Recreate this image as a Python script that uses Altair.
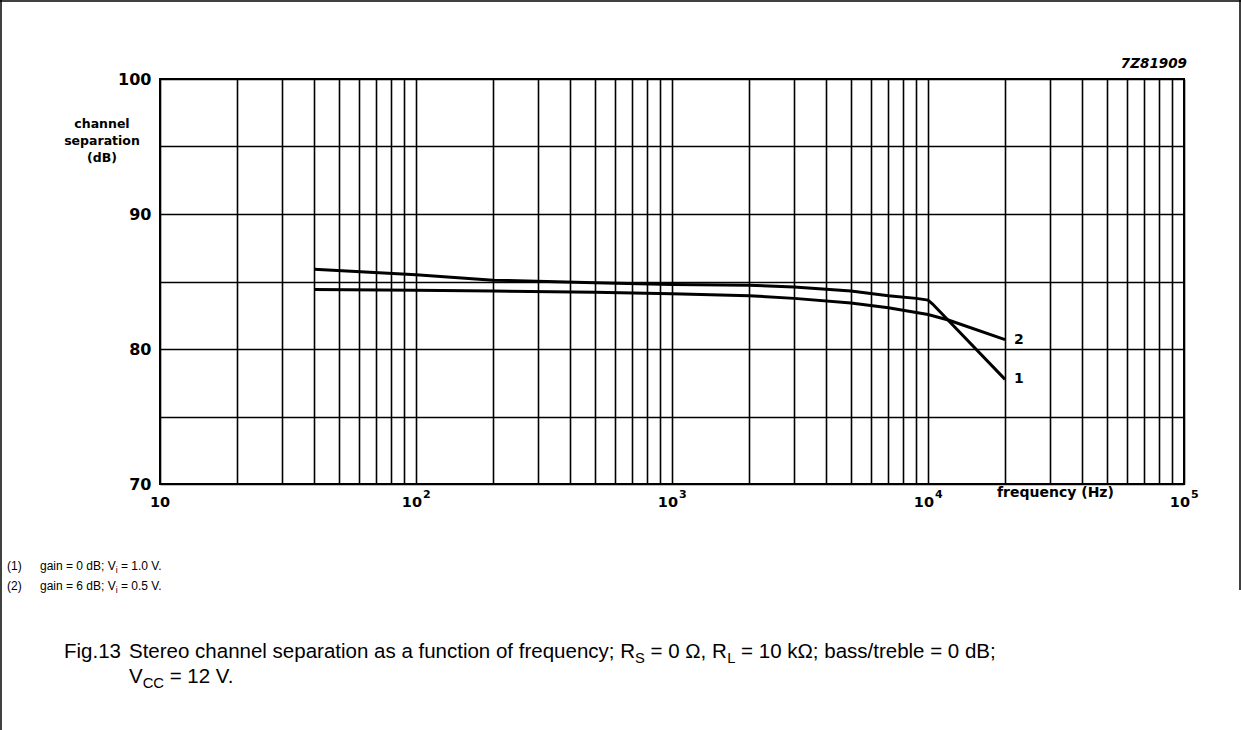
import altair as alt
import pandas as pd

# ---------------- data ----------------
freq1 = [40, 100, 200, 500, 1000, 2000, 3000, 5000, 7000, 9000, 10000, 10400, 20000]
sep1 = [85.9, 85.5, 85.1, 84.9, 84.78, 84.72, 84.6, 84.3, 83.95, 83.75, 83.62, 83.35, 77.75]
freq2 = [40, 100, 200, 500, 1000, 2000, 3000, 5000, 7000, 10000, 12000, 20000]
sep2 = [84.4, 84.35, 84.3, 84.2, 84.1, 83.95, 83.75, 83.4, 83.05, 82.55, 82.15, 80.7]
curve_names = ["1", "2"]

decades = [10, 100, 1000, 10000, 100000]
exponents = ["", "2", "3", "4", "5"]
y_ticks = [70, 75, 80, 85, 90, 95, 100]
x_grid = [m * d for d in [10, 100, 1000, 10000] for m in range(1, 10)] + [100000]

FONT = "Liberation Sans"
BFONT = "DejaVu Sans"
W_PLOT, H_PLOT = 1024, 405
PAD = {"left": 160, "top": 79, "right": 57, "bottom": 246}

rows = []
for f, s in zip(freq1, sep1):
    rows.append({"freq": f, "sep": s, "curve": "1"})
for f, s in zip(freq2, sep2):
    rows.append({"freq": f, "sep": s, "curve": "2"})
df = pd.DataFrame(rows)

ends = pd.DataFrame({"curve": curve_names, "freq": [freq1[-1], freq2[-1]], "sep": [sep1[-1], sep2[-1]]})

xscale = alt.Scale(type="log", domain=[10, 100000], nice=False)
yscale = alt.Scale(domain=[70, 100], nice=False, zero=False)

lines = alt.Chart(df).mark_line(color="black", strokeWidth=3).encode(
    x=alt.X("freq:Q", scale=xscale,
            axis=alt.Axis(values=x_grid, labels=False, ticks=False, domain=False,
                          grid=True, gridColor="black", gridWidth=1.6, gridOpacity=1, title=None)),
    y=alt.Y("sep:Q", scale=yscale,
            axis=alt.Axis(values=y_ticks, ticks=False, domain=False, grid=True,
                          gridColor="black", gridWidth=1.6, gridOpacity=1, title=None,
                          labelExpr="datum.value % 10 == 0 ? datum.label : ''",
                          labelFont=BFONT, labelFontWeight="bold", labelFontSize=16,
                          labelColor="black", labelPadding=9)),
    detail="curve:N",
)

end_labels = alt.Chart(ends).mark_text(
    align="left", baseline="middle", dx=9, font=BFONT, fontWeight="bold", fontSize=14, color="black"
).encode(x=alt.X("freq:Q", scale=xscale), y=alt.Y("sep:Q", scale=yscale), text="curve:N")

# x tick labels ("10" with superscript exponent)
dec_df = pd.DataFrame({"freq": decades, "base": ["10"] * len(decades), "exp": exponents})
lab_first = alt.Chart(dec_df[dec_df["exp"] == ""]).mark_text(
    align="center", baseline="alphabetic", font=BFONT, fontWeight="bold", fontSize=14.5, color="black"
).encode(x=alt.X("freq:Q", scale=xscale), y=alt.value(H_PLOT + 23), text="base:N")
lab_base = alt.Chart(dec_df[dec_df["exp"] != ""]).mark_text(
    align="right", baseline="alphabetic", dx=6, font=BFONT, fontWeight="bold", fontSize=14.5, color="black"
).encode(x=alt.X("freq:Q", scale=xscale), y=alt.value(H_PLOT + 23), text="base:N")
lab_exp = alt.Chart(dec_df[dec_df["exp"] != ""]).mark_text(
    align="left", baseline="alphabetic", dx=7, font=BFONT, fontWeight="bold", fontSize=11, color="black"
).encode(x=alt.X("freq:Q", scale=xscale), y=alt.value(H_PLOT + 14), text="exp:N")

# ---------------- text annotations ----------------
AW = {" ": 278, "\u00a0": 278, "(": 333, ")": 333, ".": 278, ",": 278, ";": 278, "=": 584,
      "/": 278, "\u03a9": 768, "A": 667, "B": 667, "C": 722, "F": 611, "L": 556, "R": 722,
      "S": 667, "V": 667, "a": 556, "b": 556, "c": 500, "d": 556, "e": 556, "f": 278,
      "g": 556, "h": 556, "i": 222, "k": 500, "l": 222, "n": 556, "o": 556, "p": 556,
      "q": 556, "r": 333, "s": 500, "t": 278, "u": 556, "y": 500}


def tw(s, size):
    return sum(AW.get(c, 556) for c in s) * size / 1000.0


def text_runs(parts, x0, y, size):
    out = []
    x = x0
    for txt, sub in parts:
        fs = size * 0.72 if sub else size
        yy = y + (size * 0.25 if sub else 0)
        stripped = txt.lstrip(" ")
        lead = tw(txt[: len(txt) - len(stripped)], fs)
        out.append((stripped.replace(" ", "\u00a0"), x + lead, yy, fs))
        x += tw(txt, fs)
    return out


def text_layer(txt, x, y, size, weight="normal", style="normal", align="left", font=FONT):
    return alt.Chart(pd.DataFrame({"t": [txt]})).mark_text(
        align=align, baseline="alphabetic", font=font, fontSize=size,
        fontWeight=weight, fontStyle=style, color="black"
    ).encode(x=alt.value(x), y=alt.value(y), text="t:N")


ann = []
# y title
for i, line in enumerate(["channel", "separation", "(dB)"]):
    ann.append(text_layer(line, -58, 49 + 17 * i, 12.5, weight="bold", align="center", font=BFONT))
# x title
ann.append(text_layer("frequency (Hz)", 837, 418, 14, weight="bold", font=BFONT))
# figure code
ann.append(text_layer("7Z81909", 1027, -11, 13.5, weight="bold", style="italic", align="right", font=BFONT))

# footnotes
FN = 12
for label, parts, yb in [
    ("(1)", [("gain = 0 dB; V", False), ("i", True), (" = 1.0 V.", False)], 491),
    ("(2)", [("gain = 6 dB; V", False), ("i", True), (" = 0.5 V.", False)], 511),
]:
    ann.append(text_layer(label, -153, yb, FN))
    for t, x, y, fs in text_runs(parts, -120, yb, FN):
        ann.append(text_layer(t, x, y, fs))

# caption
CS = 20.5
ann.append(text_layer("Fig.13", -96, 579, CS))
cap1 = [("Stereo channel separation as a function of frequency; R", False), ("S", True),
        (" = 0 \u03a9, R", False), ("L", True), (" = 10 k\u03a9; bass/treble = 0 dB;", False)]
for t, x, y, fs in text_runs(cap1, -31, 579, CS):
    ann.append(text_layer(t, x, y, fs))
cap2 = [("V", False), ("CC", True), (" = 12 V.", False)]
for t, x, y, fs in text_runs(cap2, -31, 604, CS):
    ann.append(text_layer(t, x, y, fs))

# outer frame lines
one = pd.DataFrame({"k": [0]})
frame = [
    alt.Chart(one).mark_rule(color="black", strokeWidth=1.5).encode(
        x=alt.value(-159), y=alt.value(-79), y2=alt.value(651)),
    alt.Chart(one).mark_rule(color="black", strokeWidth=1.5).encode(
        x=alt.value(-160), x2=alt.value(1081), y=alt.value(-78)),
    alt.Chart(one).mark_rule(color="black", strokeWidth=1.5).encode(
        x=alt.value(1080), y=alt.value(-79), y2=alt.value(511)),
]

chart = alt.layer(
    lines, end_labels, lab_first, lab_base, lab_exp, *ann, *frame
).properties(
    width=W_PLOT, height=H_PLOT, padding=PAD,
    autosize=alt.AutoSizeParams(type="none"),
    background="white",
).configure_view(stroke="black", strokeWidth=2)

chart.save("out.html", embed_options={"renderer": "svg", "actions": False})
